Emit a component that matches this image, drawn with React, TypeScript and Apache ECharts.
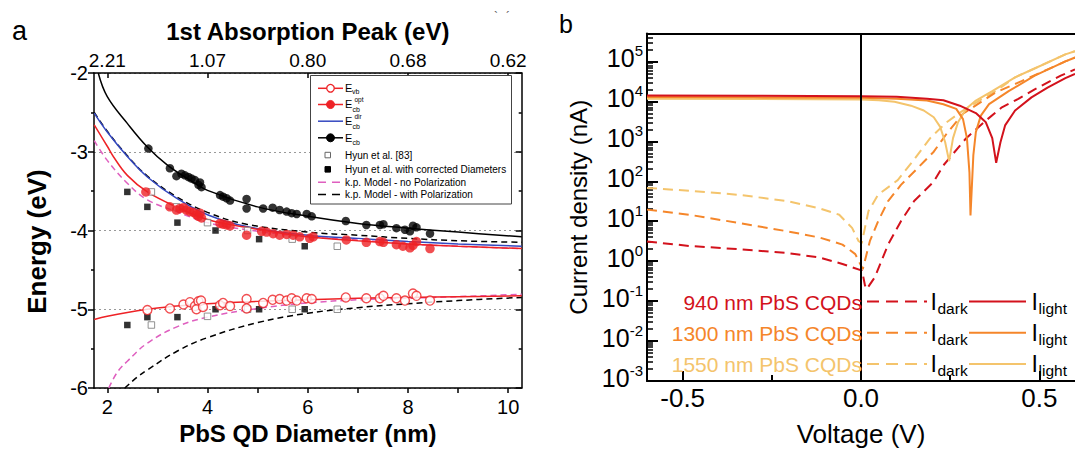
import React, { useEffect, useRef } from 'react';
import * as echarts from 'echarts';

const FONT = '"Liberation Sans", Arial, Helvetica, sans-serif';

// ---------------- Panel a : energy levels vs PbS QD diameter ----------------
const diameterTickValues = [2, 3, 4, 5, 6, 7, 8, 9, 10];
const diameterLabelValues = [2, 4, 6, 8, 10];
const absorptionPeakLabels = ['2.21', '1.07', '0.80', '0.68', '0.62'];

// E_vb (open red circles)
const evbDataX = [2.80, 3.25, 3.52, 3.65, 3.75, 3.82, 3.87, 3.78, 3.91, 4.25, 4.31, 4.45, 4.78, 4.78, 5.11, 5.30, 5.44, 5.58, 5.68, 5.78, 5.98, 6.08, 6.76, 7.17, 7.44, 7.51, 7.77, 7.94, 8.10, 8.17, 8.44];
const evbDataY = [-5.01, -4.99, -4.94, -4.91, -4.96, -4.90, -4.89, -5.00, -4.97, -4.95, -4.92, -4.96, -4.87, -4.99, -4.92, -4.88, -4.87, -4.89, -4.86, -4.89, -4.86, -4.87, -4.85, -4.86, -4.86, -4.83, -4.86, -4.89, -4.80, -4.83, -4.89];
// E_cb^opt (filled red circles)
const ecbOptDataX = [2.77, 3.25, 3.38, 3.45, 3.52, 3.58, 3.65, 3.72, 3.78, 3.82, 3.85, 3.88, 4.25, 4.31, 4.38, 4.45, 4.78, 5.08, 5.18, 5.31, 5.44, 5.58, 5.71, 5.84, 6.04, 6.11, 6.77, 7.17, 7.44, 7.51, 7.77, 7.90, 8.04, 8.10, 8.17, 8.44];
const ecbOptDataY = [-3.51, -3.70, -3.74, -3.72, -3.71, -3.74, -3.76, -3.77, -3.80, -3.82, -3.78, -3.84, -3.91, -3.92, -3.93, -3.94, -4.06, -4.01, -4.02, -4.04, -4.06, -4.05, -4.06, -4.08, -4.10, -4.08, -4.12, -4.15, -4.14, -4.15, -4.18, -4.20, -4.22, -4.19, -4.14, -4.23];
// E_cb (filled black circles)
const ecbDataX = [2.82, 3.25, 3.38, 3.48, 3.55, 3.62, 3.68, 3.75, 3.82, 3.85, 3.88, 4.25, 4.31, 4.38, 4.45, 4.78, 4.78, 5.11, 5.30, 5.44, 5.58, 5.68, 5.78, 5.98, 6.08, 6.76, 7.17, 7.44, 7.51, 7.77, 7.94, 8.04, 8.10, 8.17, 8.44];
const ecbDataY = [-2.96, -3.21, -3.31, -3.28, -3.30, -3.32, -3.34, -3.36, -3.42, -3.39, -3.45, -3.55, -3.57, -3.59, -3.62, -3.60, -3.72, -3.72, -3.71, -3.74, -3.76, -3.78, -3.79, -3.79, -3.82, -3.88, -3.93, -3.93, -3.92, -3.97, -3.99, -4.01, -3.94, -3.96, -4.04];
// Hyun et al. [83] (open squares)
const hyunX = [2.88, 3.38, 4.00, 4.80, 5.69, 6.59, 2.88, 4.00, 4.80, 5.69, 6.59];
const hyunY = [-3.51, -3.70, -3.90, -4.00, -4.11, -4.20, -5.20, -5.09, -5.00, -5.00, -5.00];
// Hyun et al. with corrected diameters (filled squares)
const hyunCorrX = [2.40, 2.80, 3.40, 4.16, 5.03, 5.94, 2.40, 2.80, 3.40, 4.16, 5.03, 5.94];
const hyunCorrY = [-3.51, -3.70, -3.90, -4.00, -4.11, -4.20, -5.20, -5.10, -5.10, -5.00, -5.00, -5.00];

// fitted / model curves
const evbFitX = [1.74, 2.0, 2.4, 2.8, 3.2, 3.6, 4.0, 5.0, 6.0, 7.0, 8.0, 9.0, 10.27];
const evbFitY = [-5.13, -5.09, -5.04, -5.00, -4.97, -4.95, -4.93, -4.90, -4.88, -4.86, -4.85, -4.84, -4.83];
const ecbOptFitX = [1.74, 2.0, 2.12, 2.4, 2.8, 3.38, 4.0, 4.78, 6.0, 7.0, 8.0, 9.0, 10.27];
const ecbOptFitY = [-2.66, -2.93, -3.06, -3.30, -3.51, -3.70, -3.86, -3.96, -4.08, -4.13, -4.17, -4.20, -4.23];
const ecbDirX = [1.74, 2.0, 2.4, 2.8, 3.38, 4.0, 4.78, 6.0, 7.0, 8.0, 9.0, 10.27];
const ecbDirY = [-2.51, -2.75, -3.06, -3.32, -3.59, -3.80, -3.95, -4.06, -4.10, -4.14, -4.17, -4.20];
const ecbFitX = [1.82, 2.0, 2.4, 2.8, 3.2, 3.6, 4.0, 5.0, 6.0, 7.0, 8.0, 9.0, 10.27];
const ecbFitY = [-2.0, -2.30, -2.64, -2.94, -3.17, -3.34, -3.49, -3.70, -3.82, -3.91, -3.97, -4.02, -4.08];
const kpNoPolCbX = [1.74, 2.0, 2.4, 2.8, 3.38, 4.0, 4.78, 6.0, 7.0, 8.0, 9.0, 10.27];
const kpNoPolCbY = [-2.86, -3.11, -3.40, -3.61, -3.76, -3.90, -3.99, -4.08, -4.12, -4.17, -4.20, -4.23];
const kpNoPolVbX = [2.03, 2.2, 2.4, 2.8, 3.4, 4.0, 5.0, 6.0, 7.0, 8.0, 9.0, 10.27];
const kpNoPolVbY = [-6.0, -5.80, -5.66, -5.43, -5.22, -5.10, -4.99, -4.92, -4.88, -4.86, -4.84, -4.81];
const kpPolCbX = [1.74, 2.0, 2.4, 2.8, 3.38, 4.0, 4.78, 6.0, 7.0, 8.0, 9.0, 10.27];
const kpPolCbY = [-2.50, -2.74, -3.05, -3.31, -3.57, -3.77, -3.92, -4.02, -4.06, -4.10, -4.13, -4.15];
const kpPolVbX = [2.35, 2.6, 2.8, 3.4, 4.0, 5.0, 6.0, 7.0, 8.0, 9.0, 10.27];
const kpPolVbY = [-6.0, -5.86, -5.77, -5.53, -5.36, -5.17, -5.05, -4.98, -4.93, -4.89, -4.85];

// ---------------- Panel b : I-V curves (log current) ----------------
const voltageTickValues = [-0.5, 0, 0.5];
const voltageMinorTickValues = [-0.25, 0.25];

const light940V = [-0.6, -0.3, 0, 0.1, 0.185, 0.231, 0.277, 0.322, 0.35, 0.368, 0.379, 0.391, 0.404, 0.432, 0.478, 0.523, 0.573, 0.6];
const light940I = [1.4e4, 1.38e4, 1.35e4, 1.3e4, 1.17e4, 1.07e4, 7.8e3, 5.1e3, 3.0e3, 1.2e3, 2.9e2, 9.5e2, 2.5e3, 5.9e3, 1.26e4, 2.2e4, 3.8e4, 4.9e4];
const light1300V = [-0.6, -0.3, 0, 0.1, 0.185, 0.231, 0.267, 0.286, 0.297, 0.304, 0.307, 0.315, 0.322, 0.336, 0.359, 0.414, 0.487, 0.573, 0.6];
const light1300I = [1.29e4, 1.26e4, 1.23e4, 1.17e4, 1.05e4, 8.5e3, 6.5e3, 3.6e3, 1.2e3, 1.7e2, 14, 4.5e2, 1.7e3, 4.4e3, 8.5e3, 1.8e4, 4.4e4, 1.0e5, 1.25e5];
const light1550V = [-0.6, -0.3, 0, 0.05, 0.094, 0.14, 0.176, 0.204, 0.222, 0.236, 0.247, 0.258, 0.272, 0.295, 0.322, 0.368, 0.432, 0.505, 0.573, 0.6];
const light1550I = [1.17e4, 1.15e4, 1.12e4, 1.07e4, 9.8e3, 7.8e3, 5.9e3, 4.0e3, 2.3e3, 9.5e2, 3.2e2, 1.2e3, 3.0e3, 6.5e3, 1.05e4, 1.8e4, 4.0e4, 7.9e4, 1.5e5, 1.8e5];
const dark940V = [-0.6, -0.481, -0.345, -0.207, -0.116, -0.052, 0.003, 0.011, 0.016, 0.039, 0.076, 0.112, 0.149, 0.204, 0.231, 0.295, 0.35, 0.395, 0.441, 0.487, 0.56, 0.6];
const dark940I = [3.1, 2.4, 2.0, 1.6, 1.23, 0.85, 0.58, 0.25, 0.2, 0.4, 2.6, 10, 32, 98, 250, 1.2e3, 3.3e3, 7.1e3, 1.15e4, 2.0e4, 4.4e4, 6.3e4];
const dark1300V = [-0.6, -0.481, -0.345, -0.207, -0.116, -0.052, -0.016, 0.005, 0.025, 0.048, 0.076, 0.112, 0.158, 0.204, 0.24, 0.286, 0.377, 0.45, 0.573, 0.6];
const dark1300I = [19.5, 14.5, 9.1, 5.6, 3.9, 2.6, 1.5, 0.63, 3.2, 10, 32, 81, 210, 550, 1.55e3, 4.9e3, 1.66e4, 3.2e4, 1.0e5, 1.25e5];
const dark1550V = [-0.6, -0.481, -0.345, -0.207, -0.116, -0.061, -0.025, -0.007, 0.002, 0.021, 0.048, 0.103, 0.149, 0.194, 0.24, 0.286, 0.332, 0.377, 0.432, 0.505, 0.573, 0.6];
const dark1550I = [68, 58, 46, 32, 21, 14.5, 6.8, 3.2, 2.8, 18, 46, 107, 350, 1.2e3, 3.0e3, 5.9e3, 1.05e4, 1.8e4, 4.0e4, 7.9e4, 1.5e5, 1.8e5];

const cqdLabels = ['940 nm PbS CQDs', '1300 nm PbS CQDs', '1550 nm PbS CQDs'];

// ---------------- styling ----------------
const RED = '#ee2226';
const BLUE = '#3448c0';
const PINK = '#df5fbf';
const RED_B = '#d3121c';
const ORANGE_B = '#f5862a';
const LIGHT_B = '#f4c46c';
const cqdColors = [RED_B, ORANGE_B, LIGHT_B];

const zip = (xs: number[], ys: number[]) => xs.map((x, i) => [x, ys[i]]);

const font = (size: number, weight = 'normal') => `${weight} ${size}px ${FONT}`;

function gText(x: number, y: number, text: string, size: number, fill = '#000', align = 'left', weight = 'normal') {
  return {
    type: 'text', z: 100, x, y, silent: true,
    style: { text, fill, font: font(size, weight), align, textAlign: align, verticalAlign: 'middle', textVerticalAlign: 'middle' },
  };
}
function gLine(x1: number, y1: number, x2: number, y2: number, stroke: string, lineWidth: number, dash?: number[]) {
  const style: any = { stroke, lineWidth };
  if (dash) style.lineDash = dash;
  return { type: 'line', z: 100, silent: true, shape: { x1, y1, x2, y2 }, style };
}
function gCircle(cx: number, cy: number, r: number, fill: string, stroke: string, lineWidth = 1.2) {
  return { type: 'circle', z: 101, silent: true, shape: { cx, cy, r }, style: { fill, stroke, lineWidth } };
}
function gRect(x: number, y: number, w: number, h: number, fill: string, stroke: string, lineWidth = 1) {
  return { type: 'rect', z: 100, silent: true, shape: { x, y, width: w, height: h }, style: { fill, stroke, lineWidth } };
}

function buildGraphics() {
  const g: any[] = [];
  // panel letters
  g.push(gText(12, 31, 'a', 27));
  g.push(gText(559, 23.5, 'b', 25));
  g.push(gText(494, 17, '`', 12, '#555'));
  g.push(gText(506, 17, '´', 12, '#555'));

  // ---- panel a legend ----
  g.push(gRect(310.5, 75.5, 201, 128.5, '#fff', '#444', 1));
  const lx1 = 318, lx2 = 343, mx = 330.5, tx = 345;
  // E_vb
  g.push(gLine(lx1, 88.3, lx2, 88.3, RED, 1.5));
  g.push(gCircle(mx, 88.3, 3.8, '#fff', RED, 1.3));
  g.push(gText(tx, 87.8, 'E', 11));
  g.push(gText(352, 91.8, 'vb', 7));
  // E_cb^opt
  g.push(gLine(lx1, 104.5, lx2, 104.5, RED, 1.5));
  g.push(gCircle(mx, 104.5, 4, RED, RED, 1));
  g.push(gText(tx, 104.2, 'E', 11));
  g.push(gText(352.5, 109.6, 'cb', 7));
  g.push(gText(354.5, 99.4, 'opt', 6.5));
  // E_cb^dir
  g.push(gLine(lx1, 121.2, lx2, 121.2, BLUE, 1.5));
  g.push(gText(tx, 121, 'E', 11));
  g.push(gText(352.5, 126.3, 'cb', 7));
  g.push(gText(354.5, 116.2, 'dir', 6.5));
  // E_cb
  g.push(gLine(lx1, 137.8, lx2, 137.8, '#000', 1.5));
  g.push(gCircle(mx, 137.8, 4, '#000', '#000', 1));
  g.push(gText(tx, 137.6, 'E', 11));
  g.push(gText(352.5, 142.3, 'cb', 7));
  // Hyun
  g.push(gRect(325, 152.3, 5.5, 5.5, '#fff', '#666', 1));
  g.push(gText(tx, 155.2, 'Hyun et al. [83]', 10));
  g.push(gRect(325, 166.6, 5.5, 5.5, '#000', '#000', 1));
  g.push(gText(tx, 169.5, 'Hyun et al. with corrected Diameters', 10));
  g.push(gLine(lx1, 182.3, lx2, 182.3, PINK, 1.5, [8, 6]));
  g.push(gText(tx, 182.4, 'k.p. Model - no Polarization', 10));
  g.push(gLine(lx1, 194.6, lx2, 194.6, '#000', 1.5, [8, 6]));
  g.push(gText(tx, 194.6, 'k.p. Model - with Polarization', 10));

  // ---- panel b legend ----
  cqdLabels.forEach((label, i) => {
    const y = 301.5 + i * 31.2;
    const c = cqdColors[i];
    g.push(gText(862, y + 0.5, label, 21, c, 'right'));
    g.push(gLine(867, y, 927, y, c, 2, [12, 7]));
    g.push(gText(930.5, y + 0.5, 'I', 23));
    g.push(gText(937.5, y + 6.5, 'dark', 15.5));
    g.push(gLine(969, y, 1026, y, c, 2));
    g.push(gText(1031.5, y + 0.5, 'I', 23));
    g.push(gText(1038.5, y + 6.5, 'light', 15.5));
  });
  return g;
}

function powerLabel(v: number) {
  if (!(v > 0)) return '';
  const lg = Math.log10(v);
  const n = Math.round(lg);
  if (Math.abs(lg - n) > 1e-6) return '';
  return `{b|10}{s|${n}}`;
}

function buildOption(): any {
  const aLine = { show: true, onZero: false, lineStyle: { color: '#000', width: 1.5 } };
  const bLine = { show: true, onZero: false, lineStyle: { color: '#000', width: 2 } };
  const aLabel = { fontSize: 20, color: '#000', fontFamily: FONT };

  const bMax = 5e5;
  const logMinorTicks: number[] = [];
  for (let n = -3; n <= 5; n++) {
    for (let k = 2; k <= 9; k++) {
      const v = k * Math.pow(10, n);
      if (v < bMax) logMinorTicks.push(Math.log10(v));
    }
  }

  const aS = { xAxisIndex: 0, yAxisIndex: 0 };
  const bS = { xAxisIndex: 2, yAxisIndex: 2 };
  const fit = (name: string, xs: number[], ys: number[], color: string, dashed: boolean, z: number) => ({
    ...aS, type: 'line', name, data: zip(xs, ys), symbol: 'none', showSymbol: false,
    smooth: 0.4, clip: true, z,
    lineStyle: { color, width: 1.5, type: dashed ? [6, 4] : 'solid' },
  });
  const iv = (name: string, xs: number[], ys: number[], color: string, dashed: boolean, z: number) => ({
    ...bS, type: 'line', name, data: zip(xs, ys), symbol: 'none', showSymbol: false, clip: true, z,
    lineStyle: { color, width: 2, type: dashed ? [10, 6] : 'solid' },
  });

  return {
    animation: false,
    backgroundColor: '#fff',
    textStyle: { fontFamily: FONT },
    grid: [
      { left: 94, top: 73, width: 427.7, height: 315 },
      { left: 647, top: 33.5, width: 437.8, height: 351.2 },
    ],
    xAxis: [
      {
        type: 'value', gridIndex: 0, position: 'bottom', min: 1.735, max: 10.27,
        axisLine: aLine,
        axisTick: { show: true, inside: false, length: 5, customValues: diameterTickValues, lineStyle: { color: '#000', width: 1.5 } },
        axisLabel: { ...aLabel, customValues: diameterLabelValues, margin: 9 },
        splitLine: { show: false },
        name: 'PbS QD Diameter (nm)', nameLocation: 'middle', nameGap: 30,
        nameTextStyle: { fontSize: 24, fontWeight: 'bold', color: '#000', fontFamily: FONT },
      },
      {
        type: 'value', gridIndex: 0, position: 'top', min: 1.735, max: 10.27,
        axisLine: aLine,
        axisTick: { show: true, inside: true, length: 5, customValues: diameterLabelValues, lineStyle: { color: '#000', width: 1.5 } },
        axisLabel: {
          fontSize: 19, color: '#000', fontFamily: FONT, margin: 3, customValues: diameterLabelValues,
          formatter: (v: number) => {
            const i = diameterLabelValues.indexOf(Math.round(v));
            return i >= 0 ? absorptionPeakLabels[i] : '';
          },
        },
        splitLine: { show: false },
        name: '1st Absorption Peak (eV)', nameLocation: 'middle', nameGap: 30,
        nameTextStyle: { fontSize: 24, fontWeight: 'bold', color: '#000', fontFamily: FONT },
      },
      {
        type: 'value', gridIndex: 1, position: 'bottom', min: -0.6, max: 0.6,
        axisLine: bLine,
        axisTick: { show: true, inside: true, length: 10, customValues: voltageTickValues, lineStyle: { color: '#000', width: 2 } },
        axisLabel: { fontSize: 26, color: '#000', fontFamily: FONT, margin: 4, customValues: voltageTickValues, formatter: (v: number) => v.toFixed(1) },
        splitLine: { show: false },
        name: 'Voltage (V)', nameLocation: 'middle', nameGap: 40,
        nameTextStyle: { fontSize: 26, color: '#000', fontFamily: FONT },
      },
      {
        type: 'value', gridIndex: 1, position: 'top', min: -0.6, max: 0.6,
        axisLine: bLine, axisTick: { show: false }, axisLabel: { show: false }, splitLine: { show: false },
      },
      {
        type: 'value', gridIndex: 1, position: 'bottom', min: -0.6, max: 0.6,
        axisLine: { show: false, onZero: false },
        axisTick: { show: true, inside: true, length: 6, customValues: voltageMinorTickValues, lineStyle: { color: '#000', width: 2 } },
        axisLabel: { show: false }, splitLine: { show: false },
      },
    ],
    yAxis: [
      {
        type: 'value', gridIndex: 0, position: 'left', min: -6, max: -2, interval: 1,
        axisLine: aLine,
        axisTick: { show: true, inside: false, length: 6, lineStyle: { color: '#000', width: 1.5 } },
        minorTick: { show: true, splitNumber: 2, length: 3, lineStyle: { color: '#000', width: 1.5 } },
        axisLabel: { ...aLabel, margin: 6 },
        splitLine: { show: true, lineStyle: { color: '#999', width: 1, type: [2, 3] } },
        minorSplitLine: { show: false },
        name: 'Energy (eV)', nameLocation: 'middle', nameGap: 44,
        nameTextStyle: { fontSize: 26, fontWeight: 'bold', color: '#000', fontFamily: FONT, padding: [0, 22, 0, 0] },
      },
      {
        type: 'value', gridIndex: 0, position: 'right', min: -6, max: -2, interval: 1,
        axisLine: aLine,
        axisTick: { show: true, inside: true, length: 6, lineStyle: { color: '#000', width: 1.5 } },
        minorTick: { show: true, splitNumber: 2, length: 3, lineStyle: { color: '#000', width: 1.5 } },
        axisLabel: { show: false }, splitLine: { show: false },
      },
      {
        type: 'log', logBase: 10, gridIndex: 1, position: 'left', min: 0.001, max: bMax, splitNumber: 8,
        axisLine: bLine,
        axisTick: { show: true, inside: true, length: 11, lineStyle: { color: '#000', width: 2 } },
        axisLabel: {
          formatter: powerLabel, margin: 4, padding: [0, 0, 7, 0],
          rich: {
            b: { fontSize: 25, color: '#000', fontFamily: FONT, lineHeight: 30 },
            s: { fontSize: 15, color: '#000', fontFamily: FONT, lineHeight: 18, verticalAlign: 'top' },
          },
        },
        splitLine: { show: false },
        name: 'Current density (nA)', nameLocation: 'middle', nameGap: 57,
        nameTextStyle: { fontSize: 24, color: '#000', fontFamily: FONT },
      },
      {
        type: 'value', gridIndex: 1, position: 'left', min: -3, max: Math.log10(bMax),
        axisLine: { show: false, onZero: false },
        axisTick: { show: true, inside: true, length: 6, customValues: logMinorTicks, lineStyle: { color: '#000', width: 1.5 } },
        axisLabel: { show: false }, splitLine: { show: false },
      },
    ],
    series: [
      // panel a
      fit('k.p. Model - no Polarization', kpNoPolCbX, kpNoPolCbY, PINK, true, 2),
      fit('k.p. Model - no Polarization', kpNoPolVbX, kpNoPolVbY, PINK, true, 2),
      fit('k.p. Model - with Polarization', kpPolCbX, kpPolCbY, '#000', true, 2),
      fit('k.p. Model - with Polarization', kpPolVbX, kpPolVbY, '#000', true, 2),
      fit('Ecb dir', ecbDirX, ecbDirY, BLUE, false, 3),
      fit('Ecb opt fit', ecbOptFitX, ecbOptFitY, RED, false, 3),
      fit('Evb fit', evbFitX, evbFitY, RED, false, 3),
      fit('Ecb fit', ecbFitX, ecbFitY, '#000', false, 3),
      {
        ...aS, type: 'scatter', name: 'Hyun et al. [83]', data: zip(hyunX, hyunY), symbol: 'rect', symbolSize: 6.5, z: 4,
        itemStyle: { color: '#fff', borderColor: '#777', borderWidth: 1 },
      },
      {
        ...aS, type: 'scatter', name: 'Hyun et al. with corrected Diameters', data: zip(hyunCorrX, hyunCorrY), symbol: 'rect', symbolSize: 6.5, z: 4,
        itemStyle: { color: '#000' },
      },
      {
        ...aS, type: 'scatter', name: 'Evb', data: zip(evbDataX, evbDataY), symbol: 'circle', symbolSize: 9, z: 5,
        itemStyle: { color: '#fff', borderColor: RED, borderWidth: 1.4 },
      },
      {
        ...aS, type: 'scatter', name: 'Ecb opt', data: zip(ecbOptDataX, ecbOptDataY), symbol: 'circle', symbolSize: 9.5, z: 5,
        itemStyle: { color: RED },
      },
      {
        ...aS, type: 'scatter', name: 'Ecb', data: zip(ecbDataX, ecbDataY), symbol: 'circle', symbolSize: 8.5, z: 5,
        itemStyle: { color: '#000' },
      },
      // panel b
      {
        ...iv('1550 nm dark', dark1550V, dark1550I, LIGHT_B, true, 3),
        markLine: {
          silent: true, symbol: 'none', label: { show: false },
          lineStyle: { color: '#000', width: 2, type: 'solid' },
          data: [{ xAxis: 0 }],
        },
      },
      iv('1300 nm dark', dark1300V, dark1300I, ORANGE_B, true, 3),
      iv('940 nm dark', dark940V, dark940I, RED_B, true, 3),
      iv('1550 nm light', light1550V, light1550I, LIGHT_B, false, 4),
      iv('1300 nm light', light1300V, light1300I, ORANGE_B, false, 4),
      iv('940 nm light', light940V, light940I, RED_B, false, 4),
    ],
    graphic: { elements: buildGraphics() },
  };
}

export default function App() {
  const ref = useRef<HTMLDivElement>(null);
  useEffect(() => {
    document.body.style.margin = '0';
    if (!ref.current) return;
    const chart = echarts.init(ref.current, null, { renderer: 'svg', width: 1075, height: 452 });
    chart.setOption(buildOption());
    return () => chart.dispose();
  }, []);
  return <div ref={ref} style={{ position: 'absolute', left: 0, top: 0, width: 1075, height: 452, background: '#fff' }} />;
}
